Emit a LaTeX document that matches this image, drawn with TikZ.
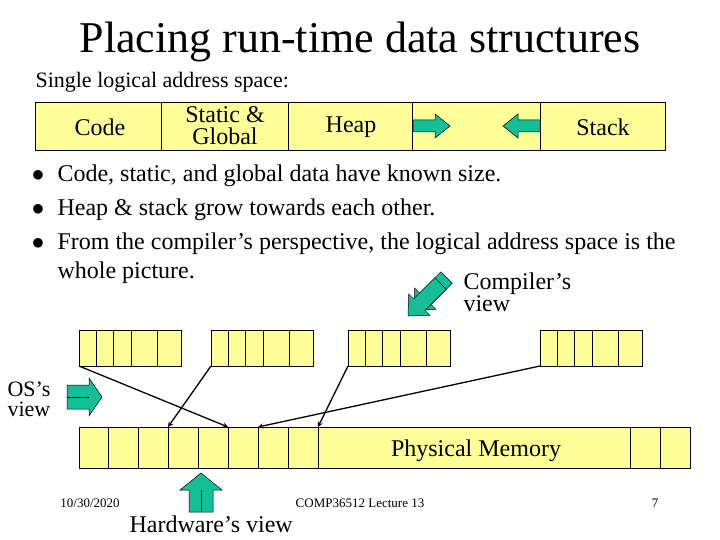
\documentclass[tikz,border=0pt]{standalone}
\usepackage{fontspec}
\setmainfont{Liberation Serif}
\definecolor{yel}{RGB}{255,255,153}
\definecolor{grn}{RGB}{20,190,150}
\begin{document}
\begin{tikzpicture}[x=1pt,y=-1pt,
  cell/.style={draw=black,fill=yel,line width=0.6pt},
  lbl/.style={font=\fontsize{24}{24}\selectfont,align=center},
  garrow/.style={draw=black,fill=grn,line width=0.5pt,line join=miter},
  ptr/.style={-stealth,line width=1.3pt}]
\useasboundingbox (0,0) rectangle (720,540);
\node[font=\fontsize{44}{46}\selectfont] (title) at (360,42) {Placing run-time data structures};
\node[font=\fontsize{22}{24}\selectfont,anchor=west] (single) at (32,82) {Single logical address space:};
% top bar
\draw[cell] (35,102) rectangle (665,150);
\foreach \x in {161,288,412,540} \draw (\x,102) -- (\x,150);
\node[lbl] (code) at (100,127) {Code};
\node[lbl,font=\fontsize{24}{22}\selectfont] (sg) at (225,126) {Static \&\\Global};
\node[lbl] (heap) at (351,127) {Heap};
\node[lbl] (stack) at (603,127) {Stack};
\draw[garrow] (413,120) -- (435,120) -- (435,114) -- (450,126) -- (435,138) -- (435,132) -- (413,132) -- cycle;
\draw[garrow] (540,120) -- (518,120) -- (518,114) -- (503,126) -- (518,138) -- (518,132) -- (540,132) -- cycle;
% bullets
\foreach \y/\n in {176/d1,210/d2,244/d3} \node[lbl] (\n) at (38,\y) {$\bullet$};
\node[lbl,anchor=west] (b1) at (54,176) {Code, static, and global data have known size.};
\node[lbl,anchor=west] (b2) at (54,210) {Heap \& stack grow towards each other.};
\node[lbl,anchor=west] (b3) at (54,244) {From the compiler’s perspective, the logical address space is the};
\node[lbl,anchor=west] (b3b) at (54,273) {whole picture.};
\node[lbl,anchor=west,align=left,font=\fontsize{24}{19}\selectfont] (cv) at (460,292) {Compiler’s\\view};
% compiler arrow (3d)
\draw[garrow,shift={(6,-6)}] (408,316) -- (429.9,315.3) -- (425,310.4) -- (446.2,289.2) -- (434.8,277.8) -- (413.6,299) -- (408.7,294.1) -- cycle;
\draw[garrow] (408,316) -- (429.9,315.3) -- (425,310.4) -- (446.2,289.2) -- (434.8,277.8) -- (413.6,299) -- (408.7,294.1) -- cycle;
% logical blocks
\foreach \g/\s in {g1/79,g2/211,g3/348,g4/540}{
  \draw[cell] (\s,330) rectangle ({\s+102},366);
  \foreach \d in {17,34,52,78} \draw ({\s+\d},330) -- ({\s+\d},366);
  \coordinate (\g) at (\s,366);
}
% physical memory
\draw[cell] (79,427) rectangle (690,468);
\foreach \x in {108,138,168,198,228,258,288,318,630,660} \draw (\x,427) -- (\x,468);
\node[lbl] (pm) at (476,451) {Physical Memory};
\coordinate (p1) at (228,427);
\coordinate (p2) at (168,427);
\coordinate (p3) at (318,427);
\coordinate (p4) at (258,427);
\draw[ptr] (g1) -- (p1);
\draw[ptr] (g2) -- (p2);
\draw[ptr] (g3) -- (p3);
\draw[ptr] (g4) -- (p4);
% OS view
\node[anchor=west,font=\fontsize{22}{22}\selectfont] (os) at (4,389) {OS’s};
\node[anchor=west,font=\fontsize{22}{22}\selectfont] (osv) at (4,409) {view};
\draw[garrow] (67,385) -- (89,385) -- (89,378) -- (102,397) -- (89,416) -- (89,409) -- (67,409) -- cycle;
\draw (67,397) -- (89,397);
% hardware view
\draw[garrow] (189,512) -- (189,490) -- (180,490) -- (201,473) -- (222,490) -- (213,490) -- (213,512) -- cycle;
\draw (201,490) -- (201,512);
\node[lbl,anchor=west] (hw) at (126,524) {Hardware’s view};
% footer
\node[font=\fontsize{13}{14}\selectfont] (date) at (90,503) {10/30/2020};
\node[font=\fontsize{13}{14}\selectfont] (course) at (360,503) {COMP36512 Lecture 13};
\node[font=\fontsize{13}{14}\selectfont] (page) at (655,503) {7};
\end{tikzpicture}
\end{document}
